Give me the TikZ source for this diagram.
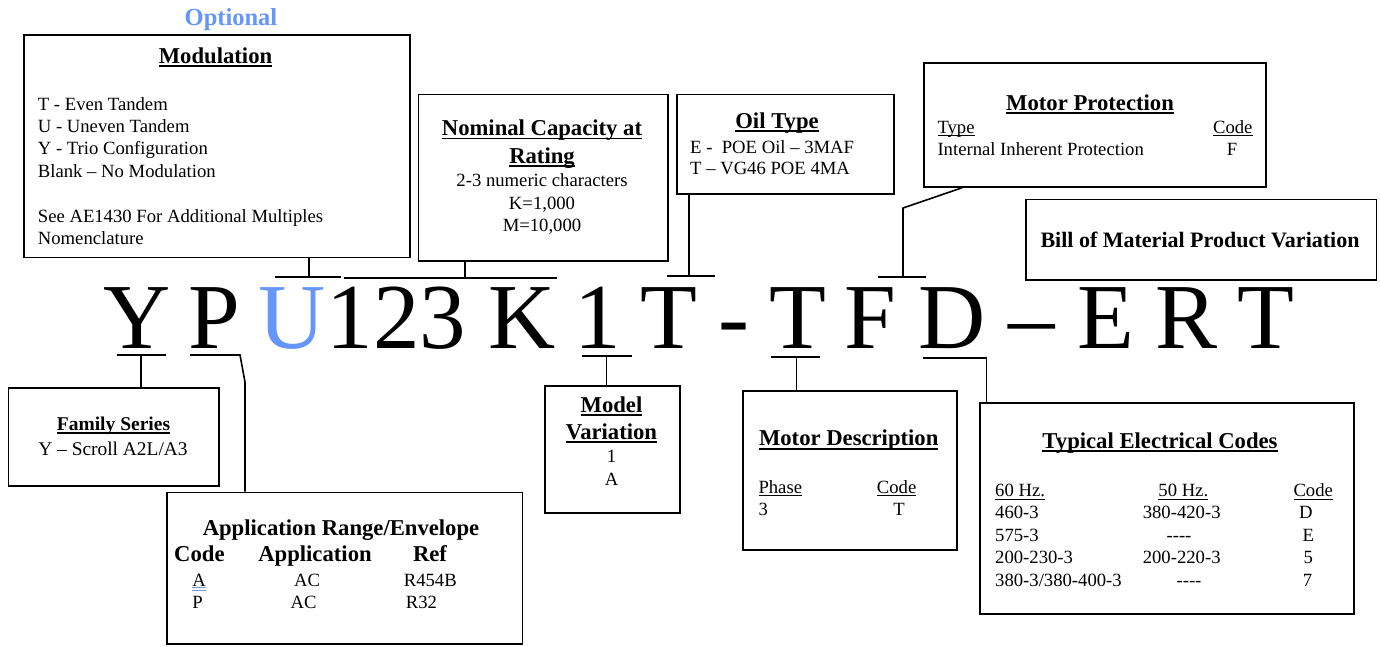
\documentclass[tikz,border=0pt]{standalone}
\usepackage{fontspec}
\setmainfont{Liberation Serif}
\definecolor{optblue}{RGB}{102,150,250}
\definecolor{spellblue}{RGB}{120,150,220}
\newcommand{\bodyf}{\fontsize{18.67}{22.4}\selectfont}
\newcommand{\titlef}{\fontsize{22.67}{27}\selectfont\bfseries}
\newcommand{\ulA}[1]{\setbox0=\hbox{#1}\rlap{\rule[-3.8pt]{\wd0}{1.8pt}}\box0}
\newcommand{\ulB}[1]{\setbox0=\hbox{#1}\rlap{\rule[-3pt]{\wd0}{1.2pt}}\box0}
\tikzset{
  boxst/.style={draw, line width=1.8pt, inner sep=0pt, anchor=north west},
  conn/.style={line width=1.6pt},
  body/.style={inner sep=0pt, font=\bodyf},
  ttl/.style={inner sep=0pt, font=\titlef},
  big/.style={inner sep=0pt, anchor=base, font=\fontsize{93}{93}\selectfont},
  spell/.style={spellblue, line width=0.8pt},
}
\begin{document}
\begin{tikzpicture}[x=1pt,y=-1pt]
\fill[white] (0,0) rectangle (1380,646);
\useasboundingbox (0,0) rectangle (1380,646);

% ---------- boxes ----------
\node[boxst, minimum width=386, minimum height=222.5] (mod) at (23,34) {};
\node[boxst, minimum width=249.5, minimum height=166.5] (nom) at (417.5,93.5) {};
\node[boxst, minimum width=217, minimum height=99.5] (oil) at (676,93.5) {};
\node[boxst, minimum width=342, minimum height=124] (mp) at (923,62) {};
\node[boxst, minimum width=350.5, minimum height=80.5] (bill) at (1025,198.5) {};
\node[boxst, minimum width=210.5, minimum height=98] (fam) at (7.5,387) {};
\node[boxst, minimum width=355.5, minimum height=151.5] (app) at (166,491.5) {};
\node[boxst, minimum width=135, minimum height=127] (model) at (544,385) {};
\node[boxst, minimum width=214, minimum height=159] (motor) at (742,390) {};
\node[boxst, minimum width=374, minimum height=211] (elec) at (979,402) {};

% ---------- big code letters ----------
\node[big] (LY) at (137,348) {Y};
\node[big] (LP) at (214,348) {P};
\node[big, text=optblue] (LU) at (292.5,348) {U};
\node[big] (L123) at (396.7,348) {123};
\node[big] (LK) at (521.7,348) {K};
\node[big] (L1) at (597.5,348) {1};
\node[big] (LT1) at (669,348) {T};
\node[big] (Lh) at (734,348) {-};
\node[big] (LT2) at (797.5,348) {T};
\node[big] (LF) at (870.8,348) {F};
\node[big] (LD) at (952.5,348) {D};
\node[big] (Ld) at (1031.7,348) {–};
\node[big] (LE) at (1105.8,348) {E};
\node[big] (LR) at (1186.7,348) {R};
\node[big] (LT3) at (1265.8,348) {T};

% ---------- Modulation ----------
\node[inner sep=0pt, anchor=base, text=optblue, font=\fontsize{24.5}{28}\selectfont\bfseries] (opt) at (231,25) {Optional};
\node[ttl, anchor=base] (modt) at (215.5,63.3) {\ulA{Modulation}};
\node[body, anchor=base west] (m1) at (37.7,110) {T - Even Tandem};
\node[body, anchor=base west] (m2) at (37.7,132) {U - Uneven Tandem};
\node[body, anchor=base west] (m3) at (37.7,154.5) {Y - Trio Configuration};
\node[body, anchor=base west] (m4) at (37.7,177) {Blank – No Modulation};
\node[body, anchor=base west] (m5) at (37.7,222) {See AE1430 For Additional Multiples};
\node[body, anchor=base west] (m6) at (37.7,244) {Nomenclature};

% ---------- Nominal capacity ----------
\node[ttl, anchor=base] (nt1) at (542,135.5) {\ulA{Nominal Capacity at}};
\node[ttl, anchor=base] (nt2) at (542,163) {\ulA{Rating}};
\node[body, anchor=base] (n1) at (542,186.7) {2-3 numeric characters};
\node[body, anchor=base] (n2) at (542,209.3) {K=1,000};
\node[body, anchor=base] (n3) at (542,231.7) {M=10,000};

% ---------- Oil type ----------
\node[ttl, anchor=base] (ot) at (777,128.3) {\ulA{Oil Type}};
\node[body, anchor=base west] (o1) at (690,153.3) {E -\ \ POE Oil – 3MAF};
\node[body, anchor=base west] (o2) at (690,174.3) {T – VG46 POE 4MA};

% ---------- Motor protection ----------
\node[ttl, anchor=base] (mpt) at (1090,110) {\ulA{Motor Protection}};
\node[body, anchor=base west] (mp1) at (937.3,133.3) {\ulB{Type}};
\node[body, anchor=base east] (mp2) at (1252.7,133.3) {\ulB{Code}};
\node[body, anchor=base west] (mp3) at (937.3,155) {Internal Inherent Protection};
\node[body, anchor=base] (mp4) at (1232,155) {F};

% ---------- Bill of material ----------
\node[inner sep=0pt, anchor=base, font=\fontsize{22}{26}\selectfont\bfseries] (bt) at (1200,247) {Bill of Material Product Variation};

% ---------- Family series ----------
\node[inner sep=0pt, anchor=base, font=\fontsize{19.5}{23}\selectfont\bfseries] (ft) at (113.5,430) {\ulA{Family Series}};
\node[inner sep=0pt, anchor=base, font=\fontsize{19.4}{23}\selectfont] (f1) at (113,455) {Y – Scroll A2L/A3};

% ---------- Application range ----------
\node[ttl, anchor=base] (at) at (341,535) {Application Range/Envelope};
\node[ttl, anchor=base west] (ah1) at (174,561.7) {Code};
\node[ttl, anchor=base] (ah2) at (315,561.7) {Application};
\node[ttl, anchor=base] (ah3) at (430,561.7) {Ref};
\node[body, anchor=base] (pa) at (199,586) {A};
\node[body, anchor=base] (a12) at (307,586) {AC};
\node[body, anchor=base west] (a13) at (403.6,586) {R454B};
\node[body, anchor=base] (a21) at (197.5,608.3) {P};
\node[body, anchor=base] (a22) at (303.5,608.3) {AC};
\node[body, anchor=base west] (a23) at (405.6,608.3) {R32};
\draw[spell] ([yshift=-1.8pt]pa.base west) -- ([yshift=-1.8pt]pa.base east);
\draw[spell] ([yshift=-4.6pt]pa.base west) -- ([yshift=-4.6pt]pa.base east);

% ---------- Model variation ----------
\node[ttl, anchor=base] (mvt1) at (611.5,412.3) {\ulA{Model}};
\node[ttl, anchor=base] (mvt2) at (611.5,439.3) {\ulA{Variation}};
\node[body, anchor=base] (mv1) at (611.5,462.3) {1};
\node[body, anchor=base] (mv2) at (611.5,485) {A};

% ---------- Motor description ----------
\node[ttl, anchor=base] (mdt) at (848.7,445.7) {\ulA{Motor Description}};
\node[body, anchor=base west] (md1) at (758.3,493.3) {\ulB{Phase}};
\node[body, anchor=base west] (md2) at (876.7,493.3) {\ulB{Code}};
\node[body, anchor=base west] (md3) at (758.3,515) {3};
\node[body, anchor=base] (md4) at (899,515) {T};

% ---------- Typical electrical codes ----------
\node[ttl, anchor=base] (et) at (1160,448.3) {\ulA{Typical Electrical Codes}};
\node[body, anchor=base west] (eh1) at (995,496.7) {\ulB{60 Hz.}};
\node[body, anchor=base] (eh2) at (1183.3,496.7) {\ulB{50 Hz.}};
\node[body, anchor=base west] (eh3) at (1293.3,496.7) {\ulB{Code}};
\node[body, anchor=base west] (e11) at (995,518.5) {460-3};
\node[body, anchor=base] (e12) at (1181.7,518.5) {380-420-3};
\node[body, anchor=base] (e13) at (1305.8,518.5) {D};
\node[body, anchor=base west] (e21) at (995,541) {575-3};
\node[body, anchor=base] (e22) at (1179,541) {-{}-{}-{}-};
\node[body, anchor=base] (e23) at (1308.3,541) {E};
\node[body, anchor=base west] (e31) at (995,563.5) {200-230-3};
\node[body, anchor=base] (e32) at (1181.7,563.5) {200-220-3};
\node[body, anchor=base] (e33) at (1308.3,563.5) {5};
\node[body, anchor=base west] (e41) at (995,586) {380-3/380-400-3};
\node[body, anchor=base] (e42) at (1189,586) {-{}-{}-{}-};
\node[body, anchor=base] (e43) at (1307.5,586) {7};

% ---------- connectors above the code ----------
\coordinate (modJ) at (309,277);
\coordinate (modA) at (275,277);
\coordinate (modB) at (341,277);
\draw[conn] (mod.south -| modJ) -- (modJ);
\draw[conn] (modA) -- (modB);

\coordinate (nomJ) at (465,278);
\coordinate (nomA) at (344,278);
\coordinate (nomB) at (557,278);
\draw[conn] (nom.south -| nomJ) -- (nomJ);
\draw[conn] (nomA) -- (nomB);

\coordinate (oilJ) at (689,276);
\coordinate (oilA) at (667,276);
\coordinate (oilB) at (715,276);
\draw[conn] (oil.south -| oilJ) -- (oilJ);
\draw[conn] (oilA) -- (oilB);

\coordinate (mpX) at (962,0);
\coordinate (mpK) at (903,208);
\coordinate (mpJ) at (903,277);
\coordinate (mpA) at (878,277);
\coordinate (mpB) at (926,277);
\draw[conn] (mp.south -| mpX) -- (mpK) -- (mpJ);
\draw[conn] (mpA) -- (mpB);

% ---------- connectors below the code ----------
\coordinate (famJ) at (141,355);
\coordinate (famA) at (117,355);
\coordinate (famB) at (166,355);
\draw[conn] (famA) -- (famB);
\draw[conn] (famJ) -- (famJ |- fam.north);

\coordinate (appA) at (190,355);
\coordinate (appB) at (240,355);
\coordinate (appK) at (245,382);
\draw[conn] (appA) -- (appB) -- (appK) -- (appK |- app.north);

\coordinate (mvJ) at (606.5,356);
\coordinate (mvA) at (582,356);
\coordinate (mvB) at (632,356);
\draw[conn] (mvA) -- (mvB);
\draw[conn] (mvJ) -- (mvJ |- model.north);

\coordinate (mdJ) at (796.5,357);
\coordinate (mdA) at (771,357);
\coordinate (mdB) at (820,357);
\draw[conn] (mdA) -- (mdB);
\draw[conn] (mdJ) -- (mdJ |- motor.north);

\coordinate (elA) at (923,358);
\coordinate (elK) at (986.5,358);
\draw[conn] (elA) -- (elK) -- (elK |- elec.north);
\end{tikzpicture}
\end{document}
